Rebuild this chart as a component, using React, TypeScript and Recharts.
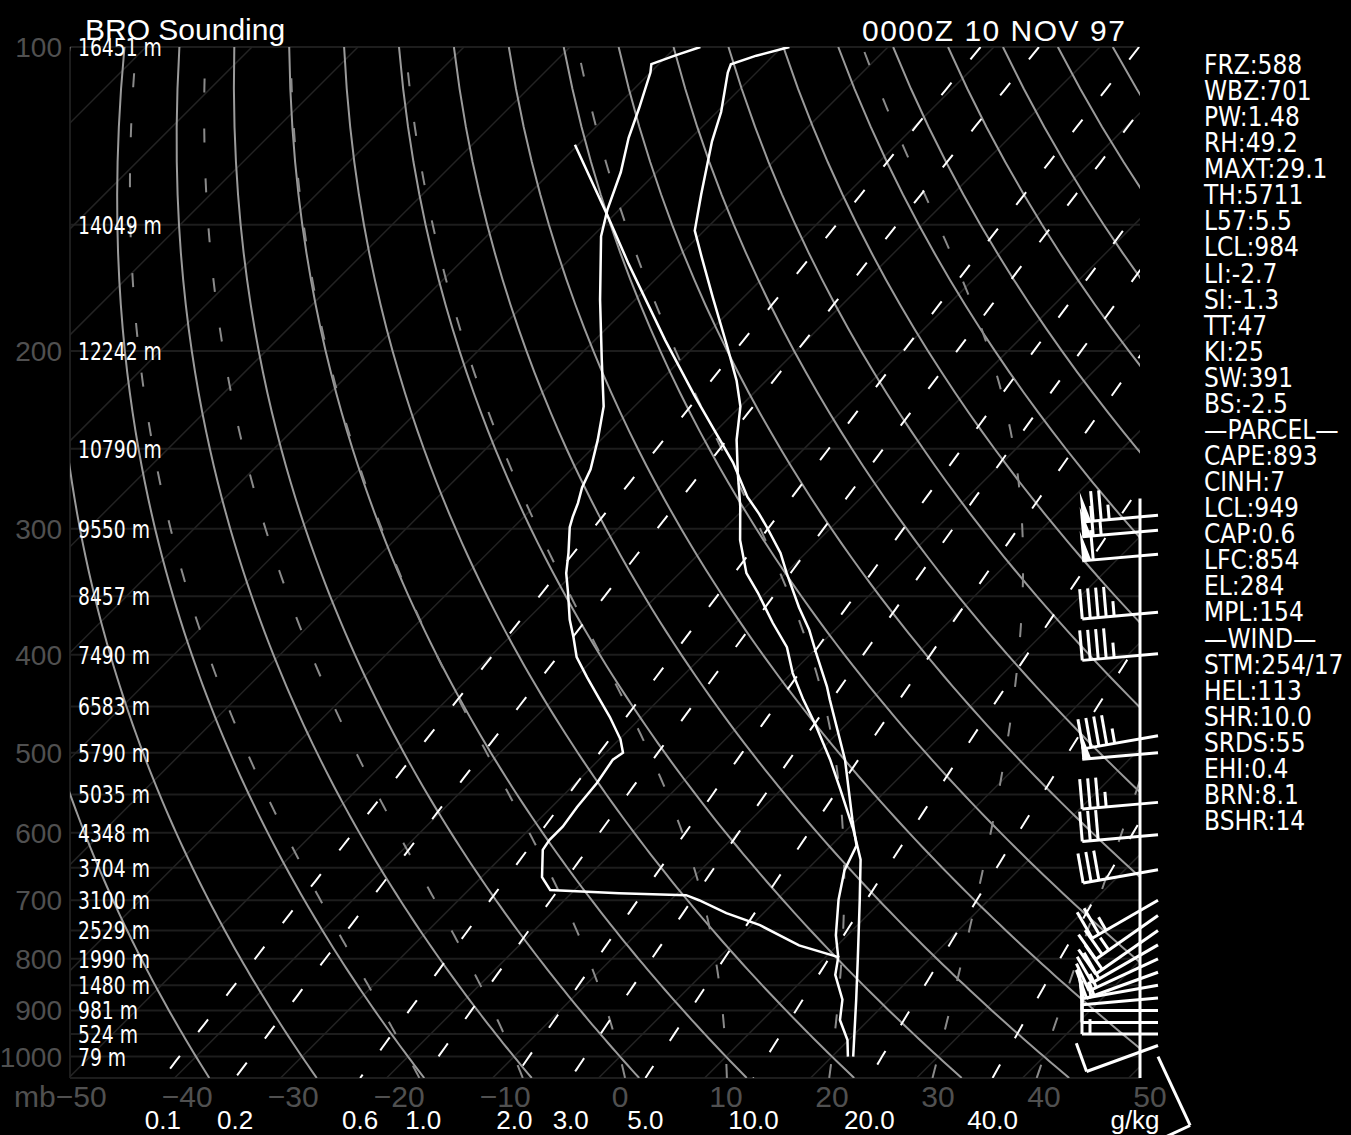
import React from "react";
import { ComposedChart, Line, Scatter, XAxis, YAxis, ReferenceLine } from "recharts";

// ---- chart frame (pixels) ----
const W = 1351;
const H = 1135;
const LEFT = 70;
const RIGHT = 1140;
const TOP = 47;
const BOTTOM = 1078;

// skew-T geometry: 45 degree isotherms, 0C at 1000 mb sits at x=620
const SKEW = 41.38;
const X_ZERO = 620;
const PX_PER_C = 10.6;
const X_MIN = (LEFT - X_ZERO) / PX_PER_C;
const X_MAX = (RIGHT - X_ZERO) / PX_PER_C;
const P_TOP = 100;
const P_BOT = 1050;

const MONO = '"DejaVu Sans", sans-serif';
const SANS = '"Liberation Sans", Arial, sans-serif';
const AXIS_GRAY = "#505050";

// ---- axes / grid values ----
const pressureTicks = [100, 200, 300, 400, 500, 600, 700, 800, 900, 1000];
const isobars = [100, 150, 200, 250, 300, 350, 400, 450, 500, 550, 600, 650, 700, 750, 800, 850, 900, 950, 1000, 1050];
const heightLevels = [100, 150, 200, 250, 300, 350, 400, 450, 500, 550, 600, 650, 700, 750, 800, 850, 900, 950, 1000];
const heights = [16451, 14049, 12242, 10790, 9550, 8457, 7490, 6583, 5790, 5035, 4348, 3704, 3100, 2529, 1990, 1480, 981, 524, 79];
const tempTicks = [-50, -40, -30, -20, -10, 0, 10, 20, 30, 40, 50];
const isotherms = [-140, -130, -120, -110, -100, -90, -80, -70, -60, -50, -40, -30, -20, -10, 0, 10, 20, 30, 40, 50];
const dryAdiabats = [-40, -30, -20, -10, 0, 10, 20, 30, 40, 50, 60, 70, 80, 90, 100, 110, 120, 130, 140, 150, 160];
const moistAdiabats = [-20, -10, 0, 10, 20, 30, 40];
const mixingRatios = [0.1, 0.2, 0.6, 1, 2, 3, 5, 10, 20, 40];

// ---- sounding (mb, degC), surface upward ----
const tempP = [1000, 878, 802, 699, 638, 596, 544, 508, 469, 443, 417, 393, 372, 347, 332, 308, 285, 264, 245, 227, 214, 198, 177, 161, 152, 140, 124, 116, 106, 104, 102, 100];
const tempC = [22.0, 16.9, 13.3, 7.8, 4.1, 0.6, -4.4, -8.2, -12.9, -16.4, -19.9, -22.9, -26.5, -30.8, -33.7, -37.4, -40.6, -44.0, -47.2, -50.0, -52.8, -56.9, -62.9, -67.9, -70.9, -73.7, -77.7, -79.6, -82.7, -83.2, -81.6, -79.3];

const dewP = [1000, 963, 920, 878, 830, 797, 776, 741, 721, 700, 692, 689, 684, 664, 624, 610, 592, 566, 536, 508, 500, 485, 461, 443, 421, 402, 384, 369, 347, 332, 317, 299, 292, 283, 273, 262, 245, 227, 204, 178, 154, 145, 133, 123, 115, 106, 104, 102, 100];
const dewC = [21.5, 19.9, 17.3, 15.6, 12.6, 11.2, 6.4, 0.8, -3.5, -7.3, -9.0, -15.5, -22.3, -24.3, -26.8, -27.1, -27.1, -27.6, -28.0, -28.7, -28.4, -29.9, -33.0, -35.6, -38.9, -41.8, -44.0, -46.0, -48.7, -50.7, -52.4, -54.7, -55.4, -56.2, -57.3, -58.2, -60.3, -62.9, -67.5, -73.3, -79.2, -81.1, -83.4, -85.9, -87.7, -90.0, -90.7, -89.3, -87.7];

const parcelP = [797, 758, 699, 654, 618, 583, 508, 443, 430, 399, 378, 359, 332, 317, 299, 290, 279, 258, 222, 195, 164, 147, 125];
const parcelC = [11.2, 8.9, 5.8, 3.6, 2.4, -0.4, -6.8, -13.9, -15.4, -19.5, -22.4, -25.5, -29.9, -32.4, -36.1, -38.1, -40.8, -45.4, -55.2, -63.4, -74.0, -80.5, -90.3];

// ---- winds ----
const windP = [291, 301, 318, 363, 399, 481, 500, 560, 603, 653, 700, 725, 750, 775, 800, 825, 850, 875, 900, 925, 950, 975, 1000];
const windDir = [265, 265, 265, 265, 265, 260, 265, 265, 265, 260, 240, 235, 235, 240, 245, 250, 260, 265, 270, 270, 270, 250, 155];
const windSpd = [75, 65, 60, 45, 45, 45, 50, 35, 30, 30, 25, 25, 20, 20, 15, 15, 15, 10, 10, 10, 15, 10, 10];

// ---- text ----
const title = "BRO Sounding";
const stamp = "0000Z 10 NOV 97";
const indices = [
  "FRZ:588", "WBZ:701", "PW:1.48", "RH:49.2", "MAXT:29.1", "TH:5711", "L57:5.5", "LCL:984",
  "LI:-2.7", "SI:-1.3", "TT:47", "KI:25", "SW:391", "BS:-2.5", "\u2014PARCEL\u2014", "CAPE:893",
  "CINH:7", "LCL:949", "CAP:0.6", "LFC:854", "EL:284", "MPL:154", "\u2014WIND\u2014", "STM:254/17",
  "HEL:113", "SHR:10.0", "SRDS:55", "EHI:0.4", "BRN:8.1", "BSHR:14",
];

// ---- thermodynamics for the background lines ----
type Pt = { x: number; p: number };
const skewX = (t: number, p: number) => t + SKEW * Math.log(1000 / p);

const pGrid: number[] = [];
for (let p = P_TOP; p <= P_BOT; p += 10) pGrid.push(p);

function dewFromMix(w: number, p: number) {
  const e = (w * p) / (622 + w);
  const l = Math.log(e / 6.112);
  return (243.5 * l) / (17.67 - l);
}

function moistRate(p: number, tk: number) {
  const tc = tk - 273.15;
  const es = 6.112 * Math.exp((17.67 * tc) / (tc + 243.5));
  const rs = (0.622 * es) / (p - es);
  const lv = 2.501e6;
  return (287.04 * tk + lv * rs) / (p * (1005.7 + (lv * lv * rs * 0.622) / (287.04 * tk * tk)));
}

function moistLine(tw: number): Pt[] {
  const up: Pt[] = [];
  let t = tw + 273.15;
  for (let p = 1000; p >= P_TOP; p -= 5) {
    up.push({ x: skewX(t - 273.15, p), p });
    const h = -5;
    const k1 = moistRate(p, t);
    const k2 = moistRate(p + h, t + h * k1);
    t += (h * (k1 + k2)) / 2;
  }
  const down: Pt[] = [];
  t = tw + 273.15;
  for (let p = 1000; p < P_BOT; p += 5) {
    const h = 5;
    const k1 = moistRate(p, t);
    const k2 = moistRate(p + h, t + h * k1);
    t += (h * (k1 + k2)) / 2;
    down.unshift({ x: skewX(t - 273.15, p + h), p: p + h });
  }
  return [...down, ...up];
}

const isothermLines = isotherms.map((t) => [
  { x: skewX(t, P_BOT), p: P_BOT },
  { x: skewX(t, P_TOP), p: P_TOP },
]);
const dryLines = dryAdiabats.map((th) =>
  pGrid.map((p) => ({ x: skewX((th + 273.15) * Math.pow(p / 1000, 0.2857) - 273.15, p), p }))
);
const moistLines = moistAdiabats.map(moistLine);
const mixLines = mixingRatios.map((w) => pGrid.map((p) => ({ x: skewX(dewFromMix(w, p), p), p })));
const mixTickX = mixingRatios.map((w) => skewX(dewFromMix(w, P_BOT), P_BOT));

const toPts = (ps: number[], ts: number[]) => ps.map((p, i) => ({ x: skewX(ts[i], p), p }));
const tempLine = toPts(tempP, tempC);
const dewLine = toPts(dewP, dewC);
const parcelLine = toPts(parcelP, parcelC);
const windData = windP.map((p, i) => ({ x: X_MAX, p, dir: windDir[i], spd: windSpd[i] }));

// ---- ticks ----
function PresTick(props: any) {
  const { y, payload } = props;
  return (
    <text x={62} y={y + 10} textAnchor="end" fill={AXIS_GRAY} fontFamily={SANS} fontSize={28}>
      {payload.value}
    </text>
  );
}

function HeightTick(props: any) {
  const { y, index } = props;
  return (
    <text
      transform={`translate(${LEFT + 8},${y + 9}) scale(0.75,1)`}
      fill="#fff"
      fontFamily={MONO}
      fontSize={25}
    >
      {`${heights[index]} m`}
    </text>
  );
}

function TempTick(props: any) {
  const { x, payload } = props;
  const v = payload.value as number;
  const abs = String(Math.abs(v));
  const label = (v === -50 ? "mb" : "") + (v < 0 ? "\u2212" : "") + abs;
  return (
    <text x={x + (abs.length * 0.556 * 30) / 2} y={1107} textAnchor="end" fill={AXIS_GRAY} fontFamily={SANS} fontSize={30}>
      {label}
    </text>
  );
}

function MixTick(props: any) {
  const { x, index } = props;
  return (
    <text x={x} y={1129} textAnchor="middle" fill="#fff" fontFamily={SANS} fontSize={26}>
      {mixingRatios[index].toFixed(1)}
    </text>
  );
}

// wind barb drawn from a point just right of the staff
function Barb(props: any) {
  const { cx, cy, payload } = props;
  if (cx == null || cy == null) return null;
  const rad = (payload.dir * Math.PI) / 180;
  const dx = Math.sin(rad);
  const dy = -Math.cos(rad);
  const fx = -dy;
  const fy = dx;
  const bx = cx + 18;
  const by = cy;
  const len = 76;
  const ex = bx + dx * len;
  const ey = by + dy * len;
  const at = (s: number) => [ex - dx * s, ey - dy * s];
  const parts: React.ReactNode[] = [];
  let spd = Math.round(payload.spd / 5) * 5;
  let s = 0;
  let k = 0;
  while (spd >= 50) {
    const [ax, ay] = at(s);
    const [cx2, cy2] = at(s + 9);
    parts.push(
      <polygon key={k++} points={`${ax},${ay} ${ax + fx * 30},${ay + fy * 30} ${cx2},${cy2}`} fill="#fff" />
    );
    s += 11;
    spd -= 50;
  }
  while (spd >= 10) {
    const [ax, ay] = at(s);
    parts.push(<line key={k++} x1={ax} y1={ay} x2={ax + fx * 30} y2={ay + fy * 30} stroke="#fff" strokeWidth={3} />);
    s += 8;
    spd -= 10;
  }
  if (spd >= 5) {
    const [ax, ay] = at(s === 0 ? 8 : s);
    parts.push(<line key={k++} x1={ax} y1={ay} x2={ax + fx * 15} y2={ay + fy * 15} stroke="#fff" strokeWidth={3} />);
  }
  return (
    <g>
      <line x1={bx} y1={by} x2={ex} y2={ey} stroke="#fff" strokeWidth={3} />
      {parts}
    </g>
  );
}

const lineProps = { dataKey: "p", dot: false, isAnimationActive: false, type: "linear" as const, activeDot: false };

export default function App() {
  return (
    <div style={{ position: "absolute", left: 0, top: 0, width: W, height: H, background: "#000", overflow: "hidden" }}>
      <ComposedChart
        width={W}
        height={H}
        margin={{ top: TOP, right: W - RIGHT, bottom: H - BOTTOM - 2, left: LEFT - 2 }}
      >
        <XAxis
          type="number"
          dataKey="x"
          domain={[X_MIN, X_MAX]}
          allowDataOverflow
          ticks={tempTicks}
          interval={0}
          height={1}
          axisLine={false}
          tickLine={false}
          tick={<TempTick />}
        />
        <XAxis
          xAxisId="w"
          type="number"
          dataKey="x"
          domain={[X_MIN, X_MAX]}
          allowDataOverflow
          ticks={mixTickX}
          interval={0}
          height={1}
          axisLine={false}
          tickLine={false}
          tick={<MixTick />}
        />
        <XAxis xAxisId="b" type="number" dataKey="x" domain={[X_MIN, X_MAX]} hide />
        <YAxis
          type="number"
          dataKey="p"
          scale="log"
          domain={[P_TOP, P_BOT]}
          allowDataOverflow
          reversed
          ticks={pressureTicks}
          interval={0}
          width={1}
          axisLine={false}
          tickLine={false}
          tick={<PresTick />}
        />
        <YAxis
          yAxisId="h"
          type="number"
          dataKey="p"
          scale="log"
          domain={[P_TOP, P_BOT]}
          allowDataOverflow
          reversed
          ticks={heightLevels}
          interval={0}
          width={1}
          axisLine={false}
          tickLine={false}
          tick={<HeightTick />}
        />
        <YAxis yAxisId="b" type="number" dataKey="p" scale="log" domain={[P_TOP, P_BOT]} reversed hide />

        {isobars.map((p) => (
          <ReferenceLine key={`ib${p}`} y={p} stroke="#1d1d1d" strokeWidth={2} />
        ))}
        <ReferenceLine x={X_MIN} stroke="#1d1d1d" strokeWidth={2} />

        {isothermLines.map((d, i) => (
          <Line key={`it${i}`} data={d} {...lineProps} stroke="#232323" strokeWidth={1.5} />
        ))}
        {dryLines.map((d, i) => (
          <Line key={`da${i}`} data={d} {...lineProps} stroke="#9a9a9a" strokeWidth={2} />
        ))}
        {moistLines.map((d, i) => (
          <Line key={`ma${i}`} data={d} {...lineProps} stroke="#8a8a8a" strokeWidth={2} strokeDasharray="14 36" />
        ))}
        {mixLines.map((d, i) => (
          <Line key={`mr${i}`} data={d} {...lineProps} stroke="#fff" strokeWidth={2} strokeDasharray="16 30" />
        ))}

        <Line data={parcelLine} {...lineProps} stroke="#fff" strokeWidth={2.5} />
        <Line data={dewLine} {...lineProps} stroke="#fff" strokeWidth={2.5} />
        <Line data={tempLine} {...lineProps} stroke="#fff" strokeWidth={2.5} />

        <Line
          xAxisId="b"
          yAxisId="b"
          data={[{ x: X_MAX, p: 280 }, { x: X_MAX, p: P_BOT }]}
          {...lineProps}
          stroke="#fff"
          strokeWidth={3}
        />
        <Scatter
          xAxisId="b"
          yAxisId="b"
          dataKey="p"
          data={windData}
          shape={(p: any) => <Barb {...p} />}
          isAnimationActive={false}
        />
      </ComposedChart>

      <svg width={W} height={H} style={{ position: "absolute", left: 0, top: 0, pointerEvents: "none" }}>
        <text x={85} y={40} fill="#fff" fontFamily={SANS} fontSize={30}>
          {title}
        </text>
        <text x={862} y={41} fill="#fff" fontFamily={SANS} fontSize={30} letterSpacing={1.5}>
          {stamp}
        </text>
        {indices.map((s, i) => (
          <text
            key={i}
            transform={`translate(1204,${74 + i * 26.07}) scale(0.9,1)`}
            fill="#fff"
            fontFamily={MONO}
            fontSize={26}
          >
            {s}
          </text>
        ))}
        <text x={1135} y={1129} textAnchor="middle" fill="#fff" fontFamily={SANS} fontSize={26}>
          g/kg
        </text>
      </svg>
    </div>
  );
}
